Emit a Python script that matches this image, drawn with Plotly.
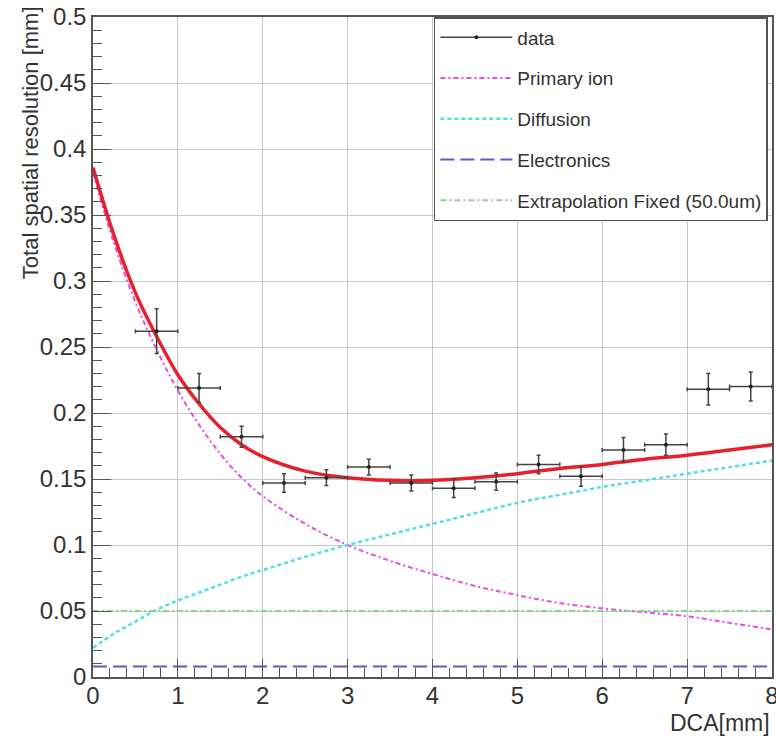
import plotly.graph_objects as go

# ---- data points ----
data_x = [0.75, 1.25, 1.75, 2.25, 2.75, 3.25, 3.75, 4.25, 4.75, 5.25, 5.75, 6.25, 6.75, 7.25, 7.75]
data_y = [0.262, 0.219, 0.182, 0.147, 0.151, 0.159, 0.147, 0.143, 0.148, 0.161, 0.152, 0.172, 0.176, 0.218, 0.220]
data_ey = [0.017, 0.011, 0.008, 0.007, 0.006, 0.006, 0.006, 0.007, 0.0065, 0.007, 0.0075, 0.0095, 0.008, 0.012, 0.011]
data_ex = [0.25] * 15

# ---- fit curves (sampled) ----
fit_x = [0, 0.25, 0.5, 0.75, 1, 1.25, 1.5, 1.75, 2, 2.5, 3, 3.5, 4, 4.5, 5, 5.5, 6, 6.5, 7, 7.5, 8]
total_y = [0.386, 0.334, 0.291, 0.258, 0.229, 0.207, 0.189, 0.176, 0.167, 0.156, 0.151, 0.149, 0.149,
           0.151, 0.154, 0.158, 0.161, 0.165, 0.168, 0.172, 0.176]
primary_y = [0.382, 0.328, 0.284, 0.248, 0.217, 0.191, 0.169, 0.151, 0.137, 0.116, 0.100, 0.088, 0.078,
             0.069, 0.062, 0.056, 0.052, 0.049, 0.046, 0.041, 0.036]
diffusion_y = [0.022, 0.033, 0.042, 0.051, 0.058, 0.064, 0.070, 0.076, 0.081, 0.091, 0.100, 0.108, 0.116,
               0.124, 0.132, 0.138, 0.144, 0.149, 0.154, 0.159, 0.164]
electronics_y = [0.008] * len(fit_x)
extrap_y = [0.05] * len(fit_x)

x_ticks = [0, 1, 2, 3, 4, 5, 6, 7, 8]
y_ticks = [0, 0.05, 0.1, 0.15, 0.2, 0.25, 0.3, 0.35, 0.4, 0.45, 0.5]
y_tick_text = ["0", "0.05", "0.1", "0.15", "0.2", "0.25", "0.3", "0.35", "0.4", "0.45", "0.5"]

FONT = "Liberation Sans, Arial, sans-serif"

fig = go.Figure()

fig.add_trace(go.Scatter(
    x=fit_x, y=primary_y, mode="lines", name="Primary ion", legendgroup="g2", legendrank=2,
    line=dict(color="#e64ce6", width=2, dash="5px,3px,2px,3px", shape="spline")))
fig.add_trace(go.Scatter(
    x=fit_x, y=diffusion_y, mode="lines", name="Diffusion", legendgroup="g3", legendrank=3,
    line=dict(color="#4fe0e6", width=2.5, dash="4px,3px", shape="spline")))
fig.add_trace(go.Scatter(
    x=fit_x, y=electronics_y, mode="lines", name="Electronics", legendgroup="g4", legendrank=4,
    line=dict(color="#5a5ac8", width=2, dash="14px,6px")))
fig.add_trace(go.Scatter(
    x=fit_x, y=extrap_y, mode="lines", name="Extrapolation Fixed (50.0um)", legendgroup="g5", legendrank=5,
    line=dict(color="#86d886", width=2, dash="6px,3px,2px,3px")))
fig.add_trace(go.Scatter(
    x=fit_x, y=total_y, mode="lines", name="total", showlegend=False,
    line=dict(color="#e8202c", width=3.5, shape="spline")))
fig.add_trace(go.Scatter(
    x=data_x, y=data_y, mode="markers", name="data", legendgroup="g1", showlegend=False,
    marker=dict(color="#222", size=4),
    error_y=dict(type="data", array=data_ey, color="#444", thickness=1.5, width=2),
    error_x=dict(type="data", array=data_ex, color="#444", thickness=1.5, width=2)))
# legend-only entry for the data series (line + marker sample, like the reference)
fig.add_trace(go.Scatter(
    x=[None], y=[None], mode="lines+markers", name="data", legendgroup="g1", legendrank=1,
    line=dict(color="#444", width=1.5), marker=dict(color="#222", size=4)))

axis_common = dict(
    showline=True, linecolor="#555", linewidth=1.5, mirror=True,
    showgrid=True, gridcolor="#c8c8c8", gridwidth=1,
    ticks="inside", tickcolor="#555", tickwidth=1.2,
    tickfont=dict(family=FONT, size=24, color="#333"),
    zeroline=False, automargin=False,
)

fig.update_layout(
    width=776, height=740,
    margin=dict(l=93, r=4, t=17, b=63),
    paper_bgcolor="white", plot_bgcolor="white",
    showlegend=True,
    legend=dict(
        x=0.502, y=1.0, xanchor="left", yanchor="top",
        bgcolor="white", bordercolor="#555", borderwidth=1.5,
        font=dict(family=FONT, size=19, color="#333"),
        tracegroupgap=13, itemwidth=72,
    ),
    xaxis=dict(range=[0, 8], tickvals=x_ticks, ticklen=18, ticklabeloverflow="allow",
               ticklabelstandoff=-4,
               minor=dict(dtick=0.2, ticklen=9, ticks="inside", tickcolor="#555", showgrid=False),
               **axis_common),
    yaxis=dict(range=[0, 0.5], tickvals=y_ticks, ticktext=y_tick_text, ticklen=18,
               minor=dict(dtick=0.01, ticklen=9, ticks="inside", tickcolor="#555", showgrid=False),
               **axis_common),
    annotations=[
        dict(text="Total spatial resolution [mm]", xref="paper", yref="paper",
             x=-0.093, y=1.02, xanchor="center", yanchor="top", textangle=-90,
             showarrow=False, font=dict(family=FONT, size=22, color="#333")),
        dict(text="DCA[mm]", xref="paper", yref="paper",
             x=1.0, y=-0.07, xanchor="right", yanchor="middle",
             showarrow=False, font=dict(family=FONT, size=23, color="#333")),
    ],
)

fig.write_html("out.html")
